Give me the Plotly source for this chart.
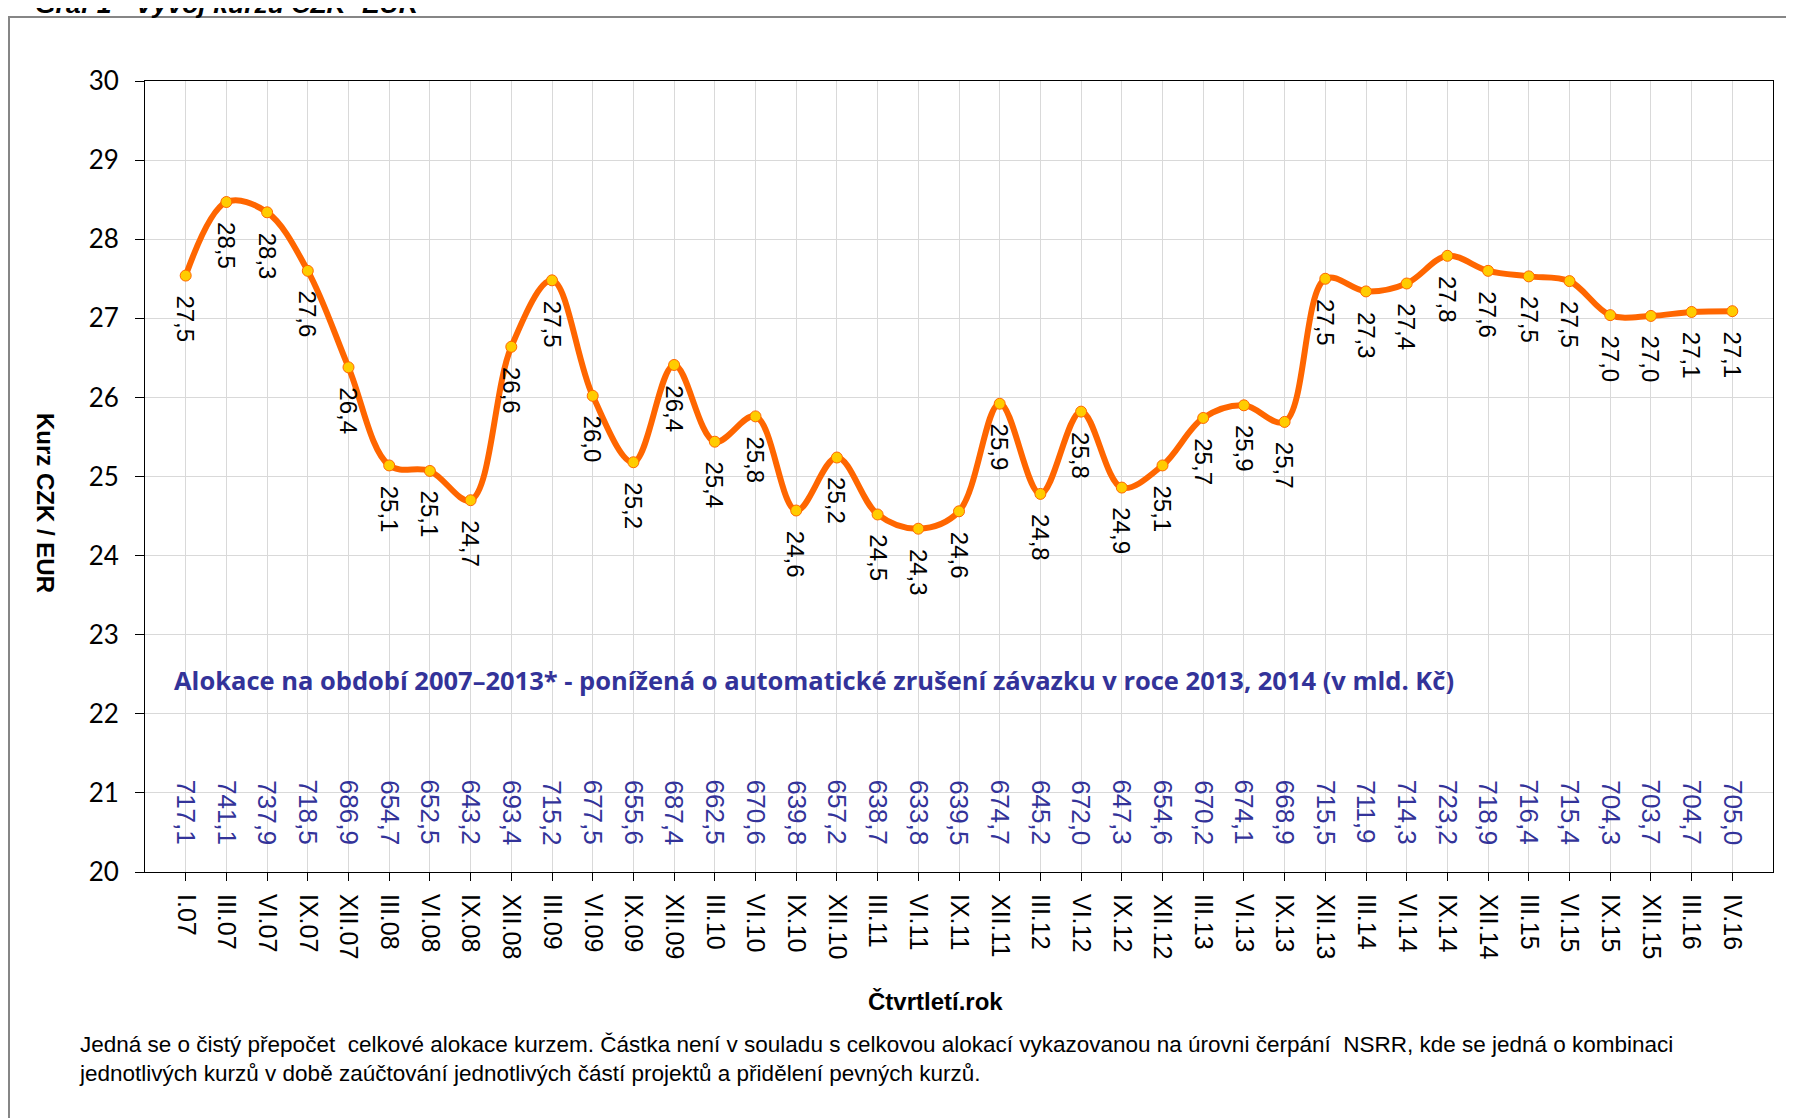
import plotly.graph_objects as go

# quarter labels on the x axis
quarters = [
    "I.07", "III.07", "VI.07", "IX.07", "XII.07",
    "III.08", "VI.08", "IX.08", "XII.08",
    "III.09", "VI.09", "IX.09", "XII.09",
    "III.10", "VI.10", "IX.10", "XII.10",
    "III.11", "VI.11", "IX.11", "XII.11",
    "III.12", "VI.12", "IX.12", "XII.12",
    "III.13", "VI.13", "IX.13", "XII.13",
    "III.14", "VI.14", "IX.14", "XII.14",
    "III.15", "VI.15", "IX.15", "XII.15",
    "III.16", "IV.16",
]

# CZK/EUR rate
rate = [
    27.54, 28.47, 28.34, 27.60, 26.38,
    25.14, 25.07, 24.70, 26.64,
    27.48, 26.02, 25.18, 26.41,
    25.44, 25.76, 24.57, 25.24,
    24.52, 24.34, 24.56, 25.92,
    24.78, 25.82, 24.86, 25.14,
    25.74, 25.90, 25.69, 27.50,
    27.34, 27.44, 27.79, 27.60,
    27.53, 27.47, 27.04, 27.03,
    27.08, 27.09,
]

# allocation 2007-2013 converted at the rate (bn CZK)
allocation = [
    717.1, 741.1, 737.9, 718.5, 686.9,
    654.7, 652.5, 643.2, 693.4,
    715.2, 677.5, 655.6, 687.4,
    662.5, 670.6, 639.8, 657.2,
    638.7, 633.8, 639.5, 674.7,
    645.2, 672.0, 647.3, 654.6,
    670.2, 674.1, 668.9, 715.5,
    711.9, 714.3, 723.2, 718.9,
    716.4, 715.4, 704.3, 703.7,
    704.7, 705.0,
]

# page is 1794x1118, the html body adds an 8px margin
OFF = 8
W, H = 1794 - OFF, 1118 - OFF
L, R, T, B = 145, 1773, 81, 872  # plot area in page pixels


def paper_x(px):
    return (px - L) / (R - L)


def paper_y(py):
    return (B - py) / (B - T)


def cz(v):
    return f"{v:.1f}".replace(".", ",")


ARIAL = "Liberation Sans, Arial, sans-serif"
CALIBRI = "Lato, Open Sans, sans-serif"
BLUE = "#333399"

fig = go.Figure()
fig.add_trace(go.Scatter(
    x=quarters, y=rate,
    mode="lines+markers",
    line=dict(color="#FF6600", width=6, shape="spline", smoothing=1.0),
    marker=dict(size=11, color="#FFCC00", line=dict(color="#FF6600", width=1)),
    hoverinfo="x+y",
    showlegend=False,
))

annotations = []
for q, v in zip(quarters, rate):
    annotations.append(dict(
        x=q, y=v, xref="x", yref="y",
        text=cz(v), showarrow=False, textangle=90,
        xanchor="center", yanchor="top", yshift=-18,
        font=dict(family=ARIAL, size=24, color="black"),
    ))
for q, a in zip(quarters, allocation):
    annotations.append(dict(
        x=q, y=21.19, xref="x", yref="y",
        text=cz(a), showarrow=False, textangle=90,
        xanchor="center", yanchor="top",
        font=dict(family=ARIAL, size=26, color=BLUE),
    ))

annotations += [
    dict(x=paper_x(33), y=paper_y(21), xref="paper", yref="paper",
         xanchor="left", yanchor="bottom", showarrow=False,
         text="<b><i>Graf 1 - Vývoj kurzu CZK -EUR</i></b>",
         font=dict(family=ARIAL, size=26.5, color="black")),
    dict(x=paper_x(46), y=paper_y(503), xref="paper", yref="paper",
         xanchor="center", yanchor="middle", showarrow=False, textangle=90,
         text="<b>Kurz CZK / EUR</b>",
         font=dict(family=ARIAL, size=24, color="black")),
    dict(x=paper_x(935), y=paper_y(1001), xref="paper", yref="paper",
         xanchor="center", yanchor="middle", showarrow=False,
         text="<b>Čtvrtletí.rok</b>",
         font=dict(family=ARIAL, size=24, color="black")),
    dict(x=paper_x(172), y=paper_y(680), xref="paper", yref="paper",
         xanchor="left", yanchor="middle", showarrow=False,
         text="<b>Alokace na období 2007–2013* - ponížená o automatické zrušení "
              "závazku v roce 2013, 2014 (v mld. Kč)</b>",
         font=dict(family="Open Sans, sans-serif", size=25.5, color=BLUE)),
    dict(x=paper_x(77), y=paper_y(1030), xref="paper", yref="paper",
         xanchor="left", yanchor="top", showarrow=False, align="left",
         text="Jedná se o čistý přepočet  celkové alokace kurzem. Částka není v souladu "
              "s celkovou alokací vykazovanou na úrovni čerpání  NSRR, kde se jedná o kombinaci"
              "<br>jednotlivých kurzů v době zaúčtování jednotlivých částí projektů a "
              "přidělení pevných kurzů.",
         font=dict(family=ARIAL, size=22.5, color="black")),
]

fig.update_layout(
    width=W, height=H,
    margin=dict(l=L - OFF, r=1794 - R, t=T - OFF, b=1118 - B, pad=0),
    paper_bgcolor="white",
    plot_bgcolor="white",
    annotations=annotations,
    shapes=[dict(
        type="rect", xref="paper", yref="paper",
        x0=paper_x(9), x1=paper_x(1830), y0=paper_y(1140), y1=paper_y(17),
        line=dict(color="#868686", width=2), fillcolor="rgba(0,0,0,0)",
        layer="below",
    )],
)

fig.update_xaxes(
    type="category", range=[-1, len(quarters)],
    showgrid=True, gridcolor="#d9d9d9", gridwidth=1,
    showline=True, linecolor="black", linewidth=1, mirror=True,
    ticks="outside", ticklen=8, tickcolor="black",
    tickangle=90, ticklabelstandoff=8,
    tickfont=dict(family=ARIAL, size=25, color="black"),
)
fig.update_yaxes(
    range=[20, 30], dtick=1,
    showgrid=True, gridcolor="#d9d9d9", gridwidth=1, zeroline=False,
    showline=True, linecolor="black", linewidth=1, mirror=True,
    ticks="outside", ticklen=9, tickcolor="black", ticklabelstandoff=11,
    tickfont=dict(family=CALIBRI, size=26, color="black"),
)

fig.write_html("out.html")
